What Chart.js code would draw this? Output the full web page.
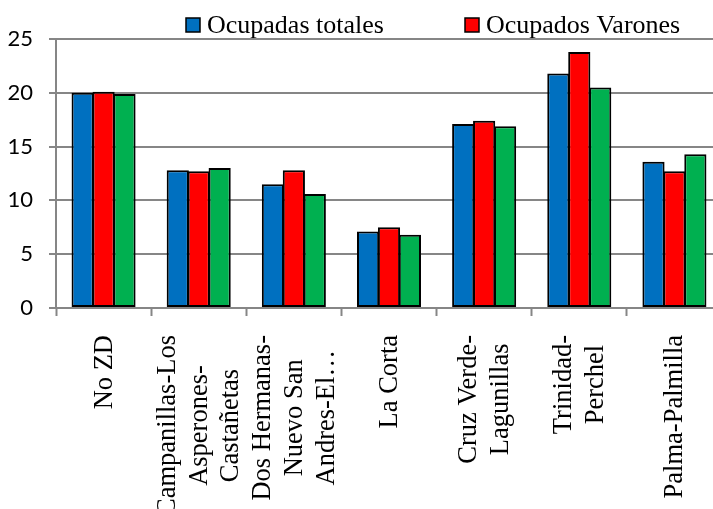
<!DOCTYPE html>
<html>
<head>
<meta charset="utf-8">
<script src="https://cdn.jsdelivr.net/npm/chart.js"></script>
<style>
  html, body { margin: 0; padding: 0; background: #fff; overflow: hidden; }
  #wrap { width: 713px; height: 509px; overflow: hidden; }
</style>
</head>
<body>
<div id="wrap"><canvas id="chart" width="730" height="509"></canvas></div>
<script>
    // --- datos del gráfico ---
    const zonas = [
        ['No ZD'],
        ['Campanillas-Los', 'Asperones-', 'Castañetas'],
        ['Dos Hermanas-', 'Nuevo San', 'Andres-El…'],
        ['La Corta'],
        ['Cruz Verde-', 'Lagunillas'],
        ['Trinidad-', 'Perchel'],
        ['Palma-Palmilla']
    ];
    const ocupadasTotales = [20.0, 12.8, 11.5, 7.1, 17.1, 21.8, 13.6];
    const ocupadosVarones = [20.1, 12.7, 12.8, 7.5, 17.4, 23.8, 12.7];
    const ocupadasMujeres = [19.9, 13.0, 10.6, 6.8, 16.9, 20.5, 14.3];
    const yTicks = [0, 5, 10, 15, 20, 25];

    const SERIF = '"Liberation Serif", "Times New Roman", serif';
    const SANS = 'Lato, "Liberation Sans", sans-serif';
    const GRID = '#868686';

    // etiquetas del eje X (rotadas, líneas centradas entre sí) + leyenda
    const labelsPlugin = {
        id: 'labelsAndLegend',
        afterDraw(chart) {
            const ctx = chart.ctx;
            const x = chart.scales.x;
            ctx.save();
            ctx.fillStyle = '#000';
            ctx.font = '26.5px ' + SERIF;
            const lh = 31.7;
            const topY = 335;
            zonas.forEach((lines, i) => {
                const cx = x.getPixelForValue(i) + 1;
                const w = Math.max(...lines.map(l => ctx.measureText(l).width));
                ctx.save();
                ctx.translate(cx, topY);
                ctx.rotate(-Math.PI / 2);
                ctx.textAlign = 'center';
                ctx.textBaseline = 'middle';
                lines.forEach((l, k) => {
                    ctx.fillText(l, -w / 2, (k - (lines.length - 1) / 2) * lh);
                });
                ctx.restore();
            });

            // leyenda (el tercer elemento queda fuera del recorte)
            ctx.font = '26px ' + SERIF;
            const items = [
                { ds: chart.data.datasets[0], x: 186 },
                { ds: chart.data.datasets[1], x: 465 }
            ];
            items.forEach(it => {
                ctx.fillStyle = it.ds.backgroundColor;
                ctx.fillRect(it.x, 18, 14, 14);
                ctx.strokeStyle = '#000';
                ctx.lineWidth = 1.5;
                ctx.strokeRect(it.x, 18, 14, 14);
                ctx.fillStyle = '#000';
                ctx.textAlign = 'left';
                ctx.textBaseline = 'alphabetic';
                ctx.fillText(it.ds.label, it.x + 21, 33);
            });
            ctx.restore();
        }
    };

    function drawChart() {
        new Chart(document.getElementById('chart'), {
            type: 'bar',
            data: {
                labels: zonas,
                datasets: [
                    { label: 'Ocupadas totales', data: ocupadasTotales, backgroundColor: '#0070C0' },
                    { label: 'Ocupados Varones', data: ocupadosVarones, backgroundColor: '#FF0000' },
                    { label: 'Ocupadas Mujeres', data: ocupadasMujeres, backgroundColor: '#00B050' }
                ]
            },
            options: {
                responsive: false,
                animation: false,
                devicePixelRatio: 1,
                layout: { padding: { top: 39, left: 0, right: 8, bottom: 0 } },
                datasets: {
                    bar: {
                        borderColor: '#000',
                        borderWidth: 2,
                        borderSkipped: false,
                        barPercentage: 1.06,   // un poco de solape: barras pegadas como en el original
                        categoryPercentage: 0.66
                    }
                },
                plugins: {
                    legend: { display: false },
                    tooltip: { enabled: false }
                },
                scales: {
                    x: {
                        afterFit: s => { s.height = 201; },
                        grid: {
                            display: true,
                            offset: true,
                            drawOnChartArea: false,
                            drawTicks: true,
                            tickLength: 8,
                            tickColor: GRID,
                            tickWidth: 2
                        },
                        border: { color: GRID, width: 2 },
                        ticks: { display: false }
                    },
                    y: {
                        min: 0,
                        max: 25,
                        afterFit: s => { s.width = 56; },
                        afterBuildTicks: s => { s.ticks = yTicks.map(v => ({ value: v })); },
                        grid: {
                            color: GRID,
                            lineWidth: 2,
                            tickLength: 7,
                            tickColor: GRID
                        },
                        border: { color: GRID, width: 2 },
                        ticks: {
                            padding: 16,
                            color: '#000',
                            font: { family: SANS, size: 22 }
                        }
                    }
                }
            },
            plugins: [labelsPlugin]
        });
    }

    // esperar a que las fuentes locales estén listas antes de pintar
    Promise.all([
        document.fonts.load('22px Lato'),
        document.fonts.load('26px "Liberation Serif"')
    ]).then(drawChart, drawChart);
</script>
</body>
</html>
